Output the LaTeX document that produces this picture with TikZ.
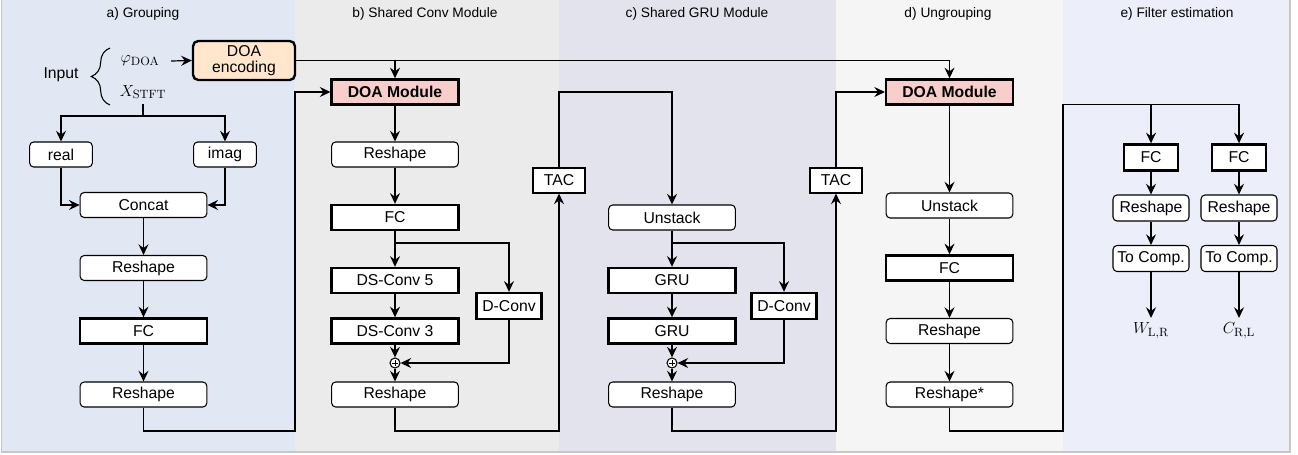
\documentclass[tikz,border=0pt]{standalone}
\usepackage[no-math]{fontspec}
\setmainfont{Liberation Sans}
\usetikzlibrary{arrows.meta,positioning,decorations.pathreplacing}
\definecolor{grpbg}{HTML}{E1E8F4}
\definecolor{convbg}{HTML}{EBEBEB}
\definecolor{grubg}{HTML}{E2E3EC}
\definecolor{ungbg}{HTML}{F5F5F5}
\definecolor{filtbg}{HTML}{ECEEFA}
\definecolor{encfill}{HTML}{FFE6CC}
\definecolor{doafill}{HTML}{F8CECC}
\tikzset{
  arr/.style={-{Stealth[length=8pt,width=7.5pt,inset=2.8pt]}},
  rbox/.style={draw, fill=white, rounded corners=3pt, line width=0.8pt,
    minimum width=95pt, minimum height=18.75pt, inner sep=1pt},
  tbox/.style={draw, fill=white, line width=1.8pt,
    minimum width=95pt, minimum height=18.75pt, inner sep=1pt},
  doabox/.style={tbox, fill=doafill, font=\fontsize{11.8}{13.5}\selectfont\bfseries},
  encbox/.style={draw, fill=encfill, rounded corners=4pt, line width=1.8pt,
    minimum width=76.5pt, minimum height=29.25pt, inner sep=1pt, align=center,
    font=\fontsize{11.8}{12}\selectfont},
  sidebox/.style={tbox, minimum width=48.75pt, minimum height=19.5pt},
  tacbox/.style={rbox, rounded corners=0pt, minimum width=39pt},
  smallrbox/.style={rbox, minimum width=57pt, minimum height=19.5pt},
  smalltbox/.style={tbox, minimum width=40.5pt, minimum height=19.5pt},
  plusnode/.style={circle, draw, fill=white, line width=0.8pt, minimum size=7.5pt, inner sep=0pt,
    path picture={\draw[line width=0.6pt] ([yshift=-1.8pt]path picture bounding box.north) -- ([yshift=1.8pt]path picture bounding box.south)
      ([xshift=1.8pt]path picture bounding box.west) -- ([xshift=-1.8pt]path picture bounding box.east);}},
  paneltitle/.style={font=\fontsize{10.3}{12}\selectfont}
}
\begin{document}
\begin{tikzpicture}[x=0.75pt, y=-0.75pt, line width=0.9pt,
    font=\fontsize{11.8}{13.5}\selectfont]
  \useasboundingbox (0,0) rectangle (1298,454);
  % panels
  \fill[grpbg] (1.5,0) rectangle (295,452);
  \fill[convbg] (295,0) rectangle (559,452);
  \fill[grubg] (559,0) rectangle (836,452);
  \fill[ungbg] (836,0) rectangle (1063,452);
  \fill[filtbg] (1063,0) rectangle (1290,452);
  \draw[black!22, line width=0.8pt] (1.5,0) -- (1.5,452) -- (1290,452) -- (1290,0);

  \node[paneltitle] (ta) at (143,14) {a) Grouping};
  \node[paneltitle] (tb) at (425,14) {b) Shared Conv Module};
  \node[paneltitle] (tc) at (697,14) {c) Shared GRU Module};
  \node[paneltitle] (td) at (948,14) {d) Ungrouping};
  \node[paneltitle] (te) at (1177,14) {e) Filter estimation};

  % a) grouping
  \node (input) at (61,75) {Input};
  \draw[line width=0.8pt, decorate, decoration={brace, amplitude=14pt, aspect=0.5}] (110,105) -- (110,48);
  \node[font=\fontsize{12.5}{14}\selectfont] (phi) at (140,61) {$\varphi_{\mathrm{DOA}}$};
  \node[font=\fontsize{12.5}{14}\selectfont] (xstft) at (143,92) {$X_{\mathrm{STFT}}$};
  \node[encbox] (enc) at (244,60.5) {DOA\\encoding};
  \node[rbox, minimum width=47pt] (real) at (61,154.5) {real};
  \node[rbox, minimum width=47pt] (imag) at (225,154.5) {imag};
  \node[rbox] (concat) at (143.5,205) {Concat};
  \node[rbox] (ra1) at (143.5,268) {Reshape};
  \node[tbox] (fca) at (143.5,331) {FC};
  \node[rbox] (ra2) at (143.5,394.5) {Reshape};

  \coordinate (split) at (143,116);
  \draw[arr] ([xshift=5pt]phi.east) -- (enc.west);
  \draw (xstft.south) -- (split);
  \draw[arr] (split) -| (real.north);
  \draw[arr] (split) -| (imag.north);
  \draw[arr] (real.south) |- (concat.west);
  \draw[arr] (imag.south) |- (concat.east);
  \draw[arr] (concat) -- (ra1);
  \draw[arr] (ra1) -- (fca);
  \draw[arr] (fca) -- (ra2);

  % b) shared conv module
  \node[doabox] (doab) at (395,92) {DOA Module};
  \node[rbox] (rb1) at (395,154.5) {Reshape};
  \node[tbox] (fcb) at (395,217.5) {FC};
  \node[tbox] (ds5) at (395,280.5) {DS-Conv 5};
  \node[tbox] (ds3) at (395,331) {DS-Conv 3};
  \node[sidebox] (dconvb) at (509,306) {D-Conv};
  \node[plusnode] (plusb) at (395,363) {};
  \node[rbox] (rb2) at (395,394.5) {Reshape};
  \node[tacbox] (tacb) at (559,180.5) {TAC};

  \coordinate (la) at (295,431);
  \coordinate (brb) at (395,243);
  \coordinate (lb) at (559,431);
  \coordinate (topb) at (559,92);
  \draw[arr] (ra2.south) |- (la) |- (doab.west);
  \draw[arr] (enc.east) -| (doab.north);
  \draw[arr] (doab) -- (rb1);
  \draw[arr] (rb1) -- (fcb);
  \draw[arr] (fcb) -- (ds5);
  \draw[arr] (ds5) -- (ds3);
  \draw[arr] (ds3) -- (plusb);
  \draw[arr] (brb) -| (dconvb.north);
  \draw[arr] (dconvb.south) |- (plusb.east);
  \draw[arr] (plusb) -- (rb2);
  \draw[arr] (rb2.south) |- (lb) -- (tacb.south);

  % c) shared gru module
  \node[rbox] (unc) at (672,217.5) {Unstack};
  \node[tbox] (gru1) at (672,280.5) {GRU};
  \node[tbox] (gru2) at (672,331) {GRU};
  \node[sidebox] (dconvc) at (784,306) {D-Conv};
  \node[plusnode] (plusc) at (672,363) {};
  \node[rbox] (rc) at (672,394.5) {Reshape};
  \node[tacbox] (tacd) at (836,180.5) {TAC};

  \coordinate (brc) at (672,243);
  \coordinate (lc) at (836,431);
  \draw[arr] (tacb.north) -- (topb) -| (unc.north);
  \draw[arr] (unc) -- (gru1);
  \draw[arr] (gru1) -- (gru2);
  \draw[arr] (gru2) -- (plusc);
  \draw[arr] (brc) -| (dconvc.north);
  \draw[arr] (dconvc.south) |- (plusc.east);
  \draw[arr] (plusc) -- (rc);
  \draw[arr] (rc.south) |- (lc) -- (tacd.south);

  % d) ungrouping
  \node[doabox] (doad) at (949.5,92) {DOA Module};
  \node[rbox] (und) at (949.5,205.5) {Unstack};
  \node[tbox] (fcd) at (949.5,268) {FC};
  \node[rbox] (rd1) at (949.5,331) {Reshape};
  \node[rbox] (rd2) at (949.5,394.5) {Reshape*};

  \coordinate (ld) at (1063,431);
  \coordinate (tope) at (1063,104.5);
  \draw[arr] (enc.east) -| (doad.north);
  \draw[arr] (tacd.north) |- (doad.west);
  \draw[arr] (doad) -- (und);
  \draw[arr] (und) -- (fcd);
  \draw[arr] (fcd) -- (rd1);
  \draw[arr] (rd1) -- (rd2);

  % e) filter estimation
  \node[smalltbox] (fce1) at (1151,157.5) {FC};
  \node[smallrbox] (re1) at (1151,208) {Reshape};
  \node[smallrbox] (tc1) at (1151,258.5) {To Comp.};
  \node[font=\fontsize{12.5}{14}\selectfont] (wlr) at (1151,331) {$W_{\mathrm{L,R}}$};
  \node[smalltbox] (fce2) at (1239,157.5) {FC};
  \node[smallrbox] (re2) at (1239,208) {Reshape};
  \node[smallrbox] (tc2) at (1239,258.5) {To Comp.};
  \node[font=\fontsize{12.5}{14}\selectfont] (crl) at (1239,331) {$C_{\mathrm{R,L}}$};

  \coordinate (spe) at (1151,104.5);
  \draw[arr] (rd2.south) |- (ld) -- (tope) -| (fce2.north);
  \draw[arr] (spe) -- (fce1.north);
  \draw[arr] (fce1) -- (re1);
  \draw[arr] (re1) -- (tc1);
  \draw[arr] (tc1) -- (wlr);
  \draw[arr] (fce2) -- (re2);
  \draw[arr] (re2) -- (tc2);
  \draw[arr] (tc2) -- (crl);
\end{tikzpicture}
\end{document}
